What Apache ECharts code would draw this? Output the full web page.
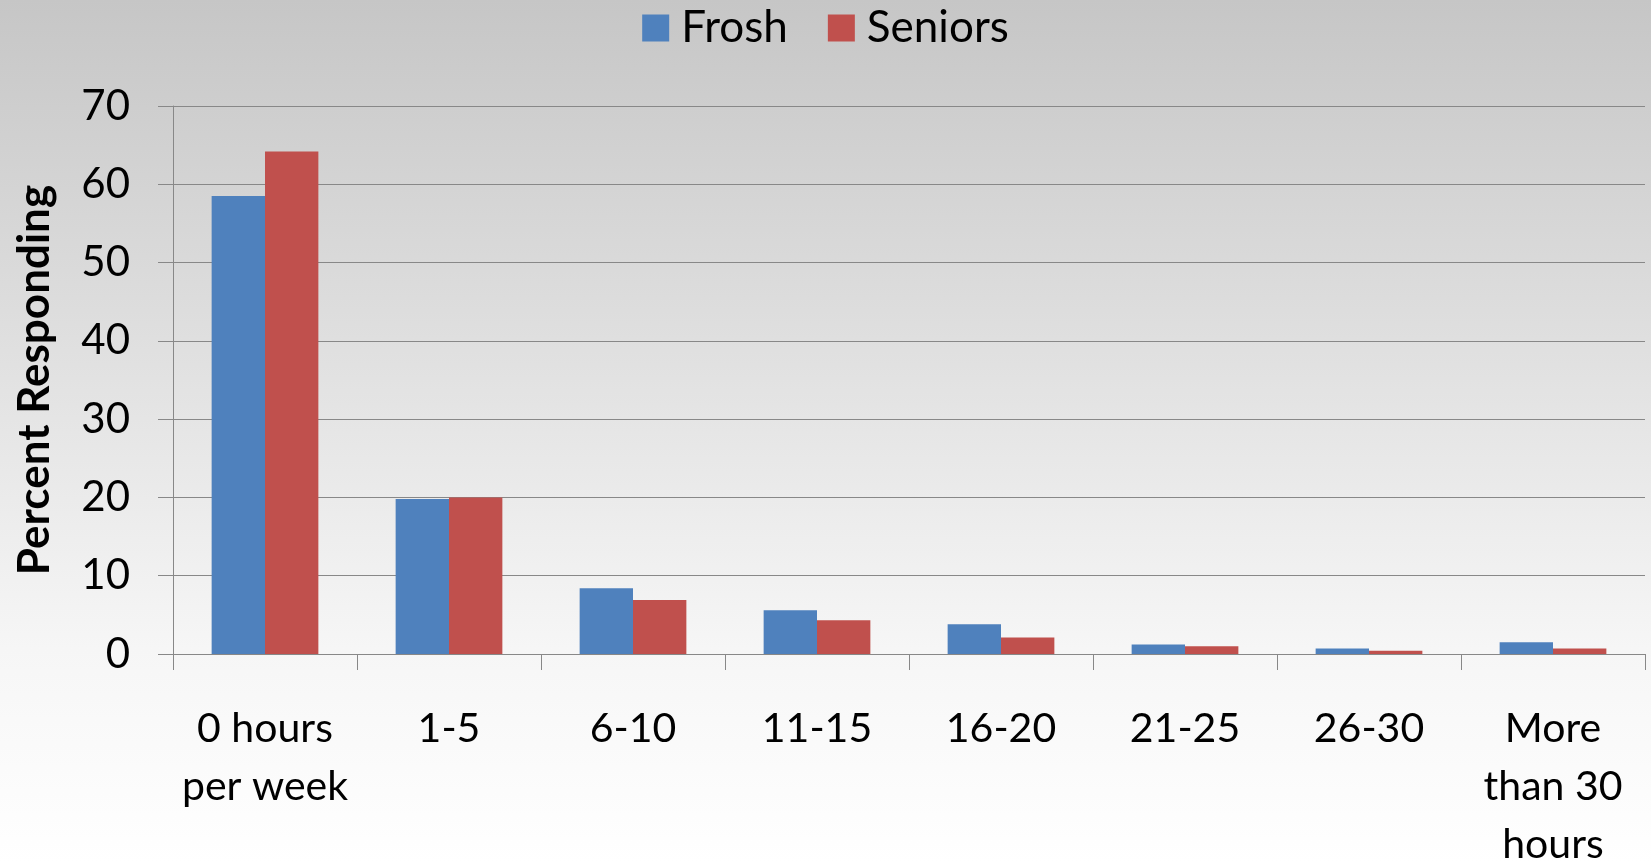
<!DOCTYPE html>
<html>
<head>
<meta charset="utf-8">
<script src="https://cdn.jsdelivr.net/npm/echarts@6/dist/echarts.min.js"></script>
<style>
	html, body {
		margin: 0;
		padding: 0;
	}
	#chart {
		width: 1651px;
		height: 864px;
	}
</style>
</head>
<body>
<div id="chart"></div>
<script>
// hours per week categories
const categories = ["0 hours\nper week", "1-5", "6-10", "11-15", "16-20", "21-25", "26-30", "More\nthan 30\nhours"];
const froshValues = [58.5, 19.8, 8.4, 5.6, 3.8, 1.2, 0.7, 1.5];
const seniorValues = [64.2, 20.0, 6.9, 4.3, 2.1, 1.0, 0.4, 0.7];
const yTicks = [0, 10, 20, 30, 40, 50, 60, 70];

const font = "Lato, 'Open Sans', sans-serif";

const option = {
	backgroundColor: {
		type: "linear",
		x: 0,
		y: 0,
		x2: 0,
		y2: 1,
		colorStops: [
			{ offset: 0, color: "#c6c6c6" },
			{ offset: 0.75, color: "#f6f6f6" },
			{ offset: 1, color: "#ffffff" },
		],
	},
	textStyle: {
		fontFamily: font,
	},
	legend: {
		top: 1,
		left: "center",
		itemWidth: 27,
		itemHeight: 27,
		itemGap: 40,
		icon: "rect",
		textStyle: {
			fontSize: 44,
			color: "#000",
			fontFamily: font,
			padding: [0, 0, 0, 7],
		},
		data: ["Frosh", "Seniors"],
	},
	grid: {
		left: 173,
		right: 6,
		top: 106,
		bottom: 210,
		outerBoundsMode: "none",
		containLabel: false,
	},
	xAxis: {
		type: "category",
		data: categories,
		axisLine: {
			lineStyle: { color: "#888", width: 1 },
		},
		axisTick: {
			show: true,
			length: 16,
			lineStyle: { color: "#888" },
		},
		axisLabel: {
			interval: 0,
			margin: 46,
			fontSize: 41,
			lineHeight: 58,
			color: "#000",
			fontFamily: font,
		},
	},
	yAxis: {
		type: "value",
		min: 0,
		max: yTicks[yTicks.length - 1],
		interval: 10,
		name: "Percent Responding",
		nameLocation: "middle",
		nameGap: 116,
		nameTextStyle: {
			fontSize: 44,
			fontWeight: "bold",
			color: "#000",
			fontFamily: font,
		},
		axisLine: {
			show: true,
			lineStyle: { color: "#888", width: 1 },
		},
		axisTick: {
			show: true,
			length: 15,
			lineStyle: { color: "#888" },
		},
		axisLabel: {
			margin: 43,
			fontSize: 42,
			color: "#000",
			fontFamily: font,
		},
		splitLine: {
			lineStyle: { color: "#888", width: 1 },
		},
	},
	series: [
		{
			name: "Frosh",
			type: "bar",
			data: froshValues,
			barGap: "0%",
			barCategoryGap: "42%",
			itemStyle: { color: "#4f81bd" },
		},
		{
			name: "Seniors",
			type: "bar",
			data: seniorValues,
			itemStyle: { color: "#c0504d" },
		},
	],
};

const myEcharts = echarts.init(document.getElementById("chart"));
myEcharts.setOption(option);
</script>
</body>
</html>
